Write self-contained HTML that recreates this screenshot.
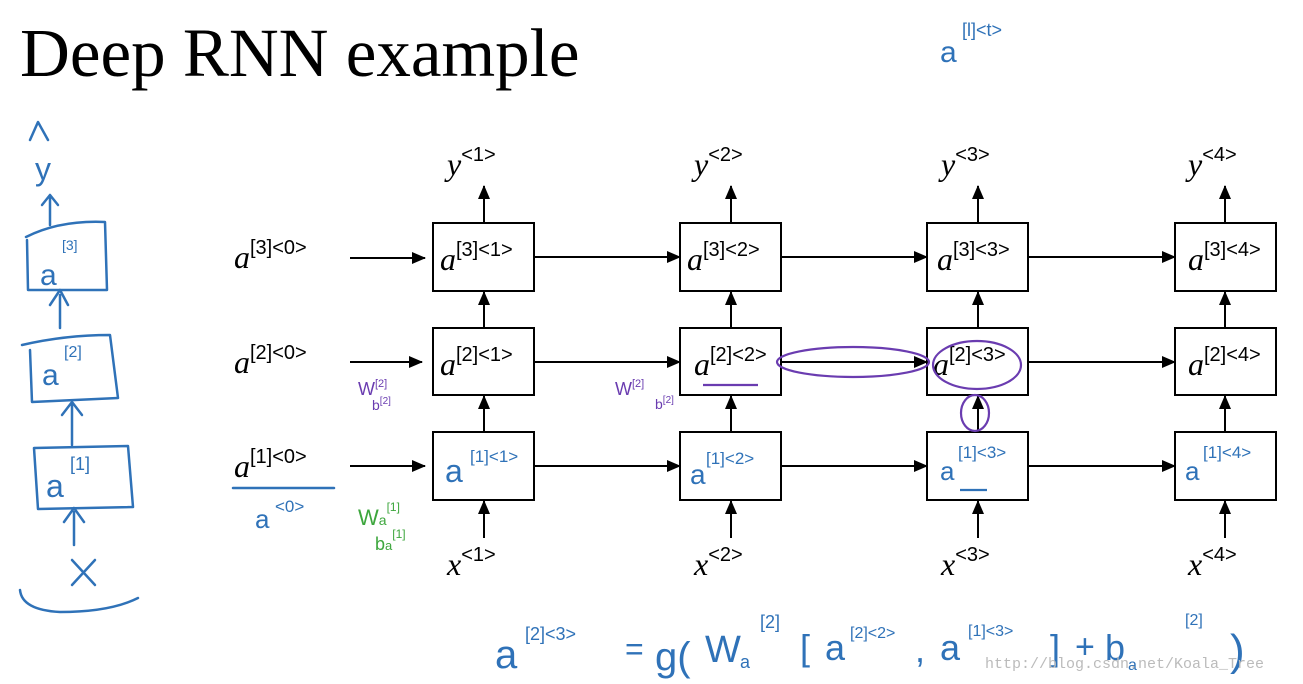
<!DOCTYPE html>
<html><head><meta charset="utf-8"><style>
body{margin:0;background:#fff;}
svg{display:block}
.m{font-family:"Liberation Serif",serif;font-style:italic;font-size:32px;fill:#000}
.s{font-family:"Liberation Sans",sans-serif;font-style:normal;font-size:20px}
.h{fill:none;stroke:#2f72b8;stroke-width:2.5;stroke-linecap:round;stroke-linejoin:round}
.hb{font-family:"Liberation Sans",sans-serif;fill:#2f72b8}
</style></head><body>
<svg width="1303" height="684" viewBox="0 0 1303 684" xmlns="http://www.w3.org/2000/svg">
<defs><marker id="ar" markerWidth="14" markerHeight="12" refX="13" refY="6" orient="auto" markerUnits="userSpaceOnUse"><path d="M0,0 L14,6 L0,12z" fill="#000"/></marker></defs>
<text x="20" y="76" font-family="Liberation Serif,serif" font-size="69" fill="#000">Deep RNN example</text>
<text x="940" y="62" class="hb" font-size="30">a</text><text x="962" y="36" class="hb" font-size="18">[l]&lt;t&gt;</text>

<g stroke="#000" stroke-width="2" fill="none">
<rect x="433" y="223" width="101" height="68"/><rect x="680" y="223" width="101" height="68"/><rect x="927" y="223" width="101" height="68"/><rect x="1175" y="223" width="101" height="68"/>
<rect x="433" y="328" width="101" height="67"/><rect x="680" y="328" width="101" height="67"/><rect x="927" y="328" width="101" height="67"/><rect x="1175" y="328" width="101" height="67"/>
<rect x="433" y="432" width="101" height="68"/><rect x="680" y="432" width="101" height="68"/><rect x="927" y="432" width="101" height="68"/><rect x="1175" y="432" width="101" height="68"/>
</g>
<g stroke="#000" stroke-width="2" marker-end="url(#ar)">
<line x1="350" y1="258" x2="425" y2="258"/><line x1="350" y1="362" x2="422" y2="362"/><line x1="350" y1="466" x2="425" y2="466"/>
<line x1="534" y1="257" x2="680" y2="257"/><line x1="781" y1="257" x2="927" y2="257"/><line x1="1028" y1="257" x2="1175" y2="257"/>
<line x1="534" y1="362" x2="680" y2="362"/><line x1="781" y1="362" x2="927" y2="362"/><line x1="1028" y1="362" x2="1175" y2="362"/>
<line x1="534" y1="466" x2="680" y2="466"/><line x1="781" y1="466" x2="927" y2="466"/><line x1="1028" y1="466" x2="1175" y2="466"/>
<line x1="484" y1="223" x2="484" y2="186"/><line x1="731" y1="223" x2="731" y2="186"/><line x1="978" y1="223" x2="978" y2="186"/><line x1="1225" y1="223" x2="1225" y2="186"/>
<line x1="484" y1="328" x2="484" y2="292"/><line x1="731" y1="328" x2="731" y2="292"/><line x1="978" y1="328" x2="978" y2="292"/><line x1="1225" y1="328" x2="1225" y2="292"/>
<line x1="484" y1="432" x2="484" y2="396"/><line x1="731" y1="432" x2="731" y2="396"/><line x1="978" y1="432" x2="978" y2="396"/><line x1="1225" y1="432" x2="1225" y2="396"/>
<line x1="484" y1="538" x2="484" y2="501"/><line x1="731" y1="538" x2="731" y2="501"/><line x1="978" y1="538" x2="978" y2="501"/><line x1="1225" y1="538" x2="1225" y2="501"/>
</g>
<g class="m">
<text x="447" y="175">y<tspan class="s" dy="-14">&lt;1&gt;</tspan></text>
<text x="694" y="175">y<tspan class="s" dy="-14">&lt;2&gt;</tspan></text>
<text x="941" y="175">y<tspan class="s" dy="-14">&lt;3&gt;</tspan></text>
<text x="1188" y="175">y<tspan class="s" dy="-14">&lt;4&gt;</tspan></text>
<text x="447" y="575">x<tspan class="s" dy="-14">&lt;1&gt;</tspan></text>
<text x="694" y="575">x<tspan class="s" dy="-14">&lt;2&gt;</tspan></text>
<text x="941" y="575">x<tspan class="s" dy="-14">&lt;3&gt;</tspan></text>
<text x="1188" y="575">x<tspan class="s" dy="-14">&lt;4&gt;</tspan></text>
<text x="234" y="268">a<tspan class="s" dy="-14">[3]&lt;0&gt;</tspan></text>
<text x="234" y="373">a<tspan class="s" dy="-14">[2]&lt;0&gt;</tspan></text>
<text x="234" y="477">a<tspan class="s" dy="-14">[1]&lt;0&gt;</tspan></text>
<text x="440" y="270">a<tspan class="s" dy="-14">[3]&lt;1&gt;</tspan></text>
<text x="687" y="270">a<tspan class="s" dy="-14">[3]&lt;2&gt;</tspan></text>
<text x="937" y="270">a<tspan class="s" dy="-14">[3]&lt;3&gt;</tspan></text>
<text x="1188" y="270">a<tspan class="s" dy="-14">[3]&lt;4&gt;</tspan></text>
<text x="440" y="375">a<tspan class="s" dy="-14">[2]&lt;1&gt;</tspan></text>
<text x="694" y="375">a<tspan class="s" dy="-14">[2]&lt;2&gt;</tspan></text>
<text x="933" y="375">a<tspan class="s" dy="-14">[2]&lt;3&gt;</tspan></text>
<text x="1188" y="375">a<tspan class="s" dy="-14">[2]&lt;4&gt;</tspan></text>
</g>
<g class="hb">
<text x="445" y="482" font-size="32">a</text><text x="470" y="462" font-size="17">[1]&lt;1&gt;</text>
<text x="690" y="484" font-size="28">a</text><text x="706" y="464" font-size="17">[1]&lt;2&gt;</text>
<text x="940" y="480" font-size="26">a</text><text x="958" y="458" font-size="17">[1]&lt;3&gt;</text>
<text x="1185" y="480" font-size="26">a</text><text x="1203" y="458" font-size="17">[1]&lt;4&gt;</text>
<text x="255" y="528" font-size="26">a</text><text x="275" y="512" font-size="17">&lt;0&gt;</text>
</g>
<line x1="233" y1="488" x2="334" y2="488" class="h"/>
<g fill="none" stroke="#6a3cb0" stroke-width="2.2">
<ellipse cx="853" cy="362" rx="76" ry="15"/>
<ellipse cx="977" cy="365" rx="44" ry="24"/>
<ellipse cx="975" cy="413" rx="14" ry="18"/>
<line x1="703" y1="385" x2="758" y2="385"/>
<line x1="960" y1="490" x2="987" y2="490" stroke="#2f72b8"/>
</g>
<text x="358" y="395" font-family="Liberation Sans" font-size="18" fill="#6a3cb0">W<tspan font-size="11" dy="-8">[2]</tspan></text>
<text x="372" y="410" font-family="Liberation Sans" font-size="14" fill="#6a3cb0">b<tspan font-size="10" dy="-6">[2]</tspan></text>
<text x="615" y="395" font-family="Liberation Sans" font-size="18" fill="#6a3cb0">W<tspan font-size="11" dy="-8">[2]</tspan></text>
<text x="655" y="409" font-family="Liberation Sans" font-size="14" fill="#6a3cb0">b<tspan font-size="10" dy="-6">[2]</tspan></text>
<text x="358" y="525" font-family="Liberation Sans" font-size="22" fill="#3da63d">W<tspan font-size="14">a</tspan><tspan font-size="12" dy="-14">[1]</tspan></text>
<text x="375" y="550" font-family="Liberation Sans" font-size="18" fill="#3da63d">b<tspan font-size="13">a</tspan><tspan font-size="12" dy="-12">[1]</tspan></text>
<g class="h">
<path d="M30,140 L38,122 L48,140"/><path d="M50,225 L50,195 M42,205 L50,195 L58,205"/>
<path d="M26,237 Q60,220 105,222 L107,290 L28,290 L27,240"/>
<path d="M60,328 L60,295 M50,305 L60,290 L68,305"/>
<path d="M22,345 Q65,335 110,335 L118,398 L32,402 L30,350"/>
<path d="M72,445 L72,405 M62,415 L72,402 L82,415"/>
<path d="M34,448 L128,446 L133,507 L38,509 Z"/>
<path d="M74,545 L74,512 M64,522 L74,508 L84,522"/>
<path d="M72,560 L95,585 M95,560 L72,585"/>
<path d="M20,590 Q22,610 60,612 Q110,612 138,598"/>
</g>
<g class="hb">
<text x="35" y="180" font-size="32">y</text>
<text x="40" y="285" font-size="30">a</text><text x="62" y="250" font-size="14">[3]</text>
<text x="42" y="385" font-size="30">a</text><text x="64" y="357" font-size="16">[2]</text>
<text x="46" y="497" font-size="32">a</text><text x="70" y="470" font-size="18">[1]</text>
</g>
<g class="hb">
<text x="495" y="668" font-size="40">a</text><text x="525" y="640" font-size="18">[2]&lt;3&gt;</text>
<text x="625" y="660" font-size="32">=</text>
<text x="655" y="670" font-size="40">g(</text>
<text x="705" y="662" font-size="38">W</text><text x="740" y="668" font-size="18">a</text><text x="760" y="628" font-size="18">[2]</text>
<text x="800" y="660" font-size="36">[</text>
<text x="825" y="660" font-size="36">a</text><text x="850" y="638" font-size="16">[2]&lt;2&gt;</text>
<text x="915" y="662" font-size="36">,</text>
<text x="940" y="660" font-size="36">a</text><text x="968" y="636" font-size="16">[1]&lt;3&gt;</text>
<text x="1050" y="660" font-size="36">]</text>
<text x="1075" y="658" font-size="34">+</text>
<text x="1105" y="660" font-size="36">b</text><text x="1128" y="670" font-size="16">a</text><text x="1185" y="625" font-size="16">[2]</text>
<text x="1230" y="665" font-size="44">)</text>
</g>
<text x="985" y="668" font-family="Liberation Mono,monospace" font-size="15" fill="#bbb">http://blog.csdn.net/Koala_Tree</text>
</svg>
</body></html>
